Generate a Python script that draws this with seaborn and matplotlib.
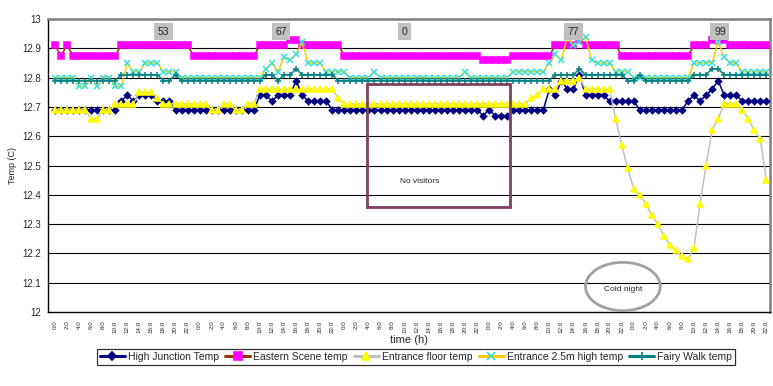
import matplotlib
matplotlib.use("Agg")
import pandas as pd
import matplotlib.pyplot as plt
from matplotlib.patches import Rectangle, Ellipse
from matplotlib.lines import Line2D
import seaborn as sns

# ---------------- data (hourly readings, 5 days) ----------------
hours = list(range(119))

day_labels = ["0:0", "2:0", "4:0", "6:0", "8:0", "10:0",
              "12:0", "14:0", "16:0", "18:0", "20:0", "22:0"]
tick_labels = day_labels * 5

high_junction = [
    12.69, 12.69, 12.69, 12.69, 12.69, 12.69, 12.69, 12.69, 12.69, 12.69, 12.69, 12.72,
    12.74, 12.72, 12.74, 12.74, 12.74, 12.72, 12.72, 12.72, 12.69, 12.69, 12.69, 12.69,
    12.69, 12.69, 12.69, 12.69, 12.69, 12.69, 12.69, 12.69, 12.69, 12.69, 12.74, 12.74,
    12.72, 12.74, 12.74, 12.74, 12.79, 12.74, 12.72, 12.72, 12.72, 12.72, 12.69, 12.69,
    12.69, 12.69, 12.69, 12.69, 12.69, 12.69, 12.69, 12.69, 12.69, 12.69, 12.69, 12.69,
    12.69, 12.69, 12.69, 12.69, 12.69, 12.69, 12.69, 12.69, 12.69, 12.69, 12.69, 12.67,
    12.69, 12.67, 12.67, 12.67, 12.69, 12.69, 12.69, 12.69, 12.69, 12.69, 12.76, 12.74,
    12.79, 12.76, 12.76, 12.81, 12.74, 12.74, 12.74, 12.74, 12.72, 12.72, 12.72, 12.72,
    12.72, 12.69, 12.69, 12.69, 12.69, 12.69, 12.69, 12.69, 12.69, 12.72, 12.74, 12.72,
    12.74, 12.76, 12.79, 12.74, 12.74, 12.74, 12.72, 12.72, 12.72, 12.72, 12.72,
]

eastern_scene = [
    12.91, 12.875, 12.91, 12.875, 12.875, 12.875, 12.875, 12.875, 12.875, 12.875, 12.875, 12.91,
    12.91, 12.91, 12.91, 12.91, 12.91, 12.91, 12.91, 12.91, 12.91, 12.91, 12.91, 12.875,
    12.875, 12.875, 12.875, 12.875, 12.875, 12.875, 12.875, 12.875, 12.875, 12.875, 12.91, 12.91,
    12.91, 12.91, 12.91, 12.93, 12.93, 12.91, 12.91, 12.91, 12.91, 12.91, 12.91, 12.91,
    12.875, 12.875, 12.875, 12.875, 12.875, 12.875, 12.875, 12.875, 12.875, 12.875, 12.875, 12.875,
    12.875, 12.875, 12.875, 12.875, 12.875, 12.875, 12.875, 12.875, 12.875, 12.875, 12.875, 12.86,
    12.86, 12.86, 12.86, 12.86, 12.875, 12.875, 12.875, 12.875, 12.875, 12.875, 12.875, 12.91,
    12.91, 12.91, 12.91, 12.93, 12.91, 12.91, 12.91, 12.91, 12.91, 12.91, 12.875, 12.875,
    12.875, 12.875, 12.875, 12.875, 12.875, 12.875, 12.875, 12.875, 12.875, 12.875, 12.91, 12.91,
    12.91, 12.93, 12.94, 12.93, 12.91, 12.91, 12.91, 12.91, 12.91, 12.91, 12.91,
]

entrance_floor = [
    12.69, 12.69, 12.69, 12.69, 12.69, 12.69, 12.66, 12.66, 12.69, 12.69, 12.71, 12.71,
    12.71, 12.71, 12.75, 12.75, 12.75, 12.73, 12.71, 12.71, 12.71, 12.71, 12.71, 12.71,
    12.71, 12.71, 12.69, 12.69, 12.71, 12.71, 12.69, 12.69, 12.71, 12.71, 12.76, 12.76,
    12.76, 12.76, 12.76, 12.76, 12.76, 12.76, 12.76, 12.76, 12.76, 12.76, 12.76, 12.73,
    12.71, 12.71, 12.71, 12.71, 12.71, 12.71, 12.71, 12.71, 12.71, 12.71, 12.71, 12.71,
    12.71, 12.71, 12.71, 12.71, 12.71, 12.71, 12.71, 12.71, 12.71, 12.71, 12.71, 12.71,
    12.71, 12.71, 12.71, 12.71, 12.71, 12.71, 12.71, 12.73, 12.74, 12.76, 12.76, 12.76,
    12.79, 12.79, 12.79, 12.80, 12.76, 12.76, 12.76, 12.76, 12.76, 12.66, 12.57, 12.49,
    12.42, 12.40, 12.37, 12.33, 12.30, 12.26, 12.23, 12.21, 12.19, 12.18, 12.22, 12.37,
    12.50, 12.62, 12.66, 12.71, 12.71, 12.71, 12.69, 12.66, 12.62, 12.59, 12.45,
]

entrance_high = [
    12.80, 12.80, 12.80, 12.80, 12.77, 12.77, 12.80, 12.77, 12.80, 12.80, 12.77, 12.77,
    12.85, 12.82, 12.82, 12.85, 12.85, 12.85, 12.82, 12.82, 12.82, 12.80, 12.80, 12.80,
    12.80, 12.80, 12.80, 12.80, 12.80, 12.80, 12.80, 12.80, 12.80, 12.80, 12.80, 12.83,
    12.85, 12.82, 12.87, 12.86, 12.88, 12.92, 12.85, 12.85, 12.85, 12.82, 12.82, 12.82,
    12.82, 12.80, 12.80, 12.80, 12.80, 12.82, 12.80, 12.80, 12.80, 12.80, 12.80, 12.80,
    12.80, 12.80, 12.80, 12.80, 12.80, 12.80, 12.80, 12.80, 12.82, 12.80, 12.80, 12.80,
    12.80, 12.80, 12.80, 12.80, 12.82, 12.82, 12.82, 12.82, 12.82, 12.82, 12.85, 12.88,
    12.86, 12.94, 12.91, 12.92, 12.94, 12.86, 12.85, 12.85, 12.85, 12.82, 12.82, 12.82,
    12.80, 12.80, 12.80, 12.80, 12.80, 12.80, 12.80, 12.80, 12.80, 12.80, 12.85, 12.85,
    12.85, 12.85, 12.92, 12.87, 12.85, 12.85, 12.82, 12.82, 12.82, 12.82, 12.82,
]

fairy_walk = [
    12.79, 12.79, 12.79, 12.79, 12.79, 12.79, 12.79, 12.79, 12.79, 12.79, 12.79, 12.81,
    12.81, 12.81, 12.81, 12.81, 12.81, 12.81, 12.79, 12.79, 12.81, 12.79, 12.79, 12.79,
    12.79, 12.79, 12.79, 12.79, 12.79, 12.79, 12.79, 12.79, 12.79, 12.79, 12.79, 12.81,
    12.81, 12.79, 12.81, 12.81, 12.83, 12.81, 12.81, 12.81, 12.81, 12.81, 12.81, 12.79,
    12.79, 12.79, 12.79, 12.79, 12.79, 12.79, 12.79, 12.79, 12.79, 12.79, 12.79, 12.79,
    12.79, 12.79, 12.79, 12.79, 12.79, 12.79, 12.79, 12.79, 12.79, 12.79, 12.79, 12.79,
    12.79, 12.79, 12.79, 12.79, 12.79, 12.79, 12.79, 12.79, 12.79, 12.79, 12.79, 12.81,
    12.81, 12.81, 12.81, 12.83, 12.81, 12.81, 12.81, 12.81, 12.81, 12.81, 12.81, 12.79,
    12.79, 12.81, 12.79, 12.79, 12.79, 12.79, 12.79, 12.79, 12.79, 12.79, 12.81, 12.81,
    12.81, 12.83, 12.83, 12.81, 12.81, 12.81, 12.81, 12.81, 12.81, 12.81, 12.81,
]

# visitor counts shown in grey boxes above the daily peaks
visitor_hours = [18, 37.5, 58, 86, 110.3]
visitor_counts = ["53", "67", "0", "77", "99"]

# series: name, values, line colour, marker, marker colour, marker size
series = [
    ("High Junction Temp", high_junction, "#000080", "D", "#000080", 3.2),
    ("Eastern Scene temp", eastern_scene, "#993300", "s", "#FF00FF", 4.6),
    ("Entrance floor temp", entrance_floor, "#C0C0C0", "^", "#FFFF00", 4.2),
    ("Entrance 2.5m high temp", entrance_high, "#FFCC00", "x", "#33E0E0", 4.2),
    ("Fairy Walk temp", fairy_walk, "#008080", "+", "#008080", 5.0),
]

sns.set_style("white")
plt.rcParams["font.family"] = ["Liberation Sans", "DejaVu Sans"]

fig = plt.figure(figsize=(7.73, 3.86), dpi=100)
ax = fig.add_axes([48 / 773, 1 - 312 / 386, 722 / 773, 293 / 386])

# gridlines at every 0.1
for y in [12.1, 12.2, 12.3, 12.4, 12.5, 12.6, 12.7, 12.8, 12.9]:
    ax.axhline(y, color="black", lw=0.8, zorder=1)

handles = []
for name, vals, lc, mk, mc, ms in series:
    df = pd.DataFrame({"hour": hours, "temp": vals})
    sns.lineplot(data=df, x="hour", y="temp", ax=ax, color=lc, lw=1.1,
                 marker=mk, markersize=ms, markerfacecolor=mc,
                 markeredgecolor=mc, markeredgewidth=1.1, zorder=3)
    handles.append(Line2D([0], [0], color=lc, lw=2.2, marker=mk, markersize=ms + 1,
                          markerfacecolor=mc, markeredgecolor=mc, markeredgewidth=1.2,
                          label=name))

ax.set_xlim(-1.15, 118.6)
ax.set_ylim(12, 13)
ax.set_yticks([12, 12.1, 12.2, 12.3, 12.4, 12.5, 12.6, 12.7, 12.8, 12.9, 13])
ax.set_yticklabels(["12", "12.1", "12.2", "12.3", "12.4", "12.5", "12.6",
                    "12.7", "12.8", "12.9", "13"], fontsize=7)
ax.set_xticks(hours[::2])
ax.set_xticklabels(tick_labels, rotation=90, fontsize=4.5)
ax.set_xticks(hours, minor=True)
ax.tick_params(axis="x", which="both", direction="out", length=3, width=0.7, pad=3)
ax.tick_params(axis="y", direction="out", length=3, width=0.7, pad=2)

for side in ["left", "bottom"]:
    ax.spines[side].set_color("black")
    ax.spines[side].set_linewidth(1.0)
for side in ["top", "right"]:
    ax.spines[side].set_color("#808080")
    ax.spines[side].set_linewidth(1.8)

ax.set_xlabel("time (h)", fontsize=8, labelpad=2)
ax.set_ylabel("Temp (C)", fontsize=6.5, labelpad=4)

# visitor boxes
for h, c in zip(visitor_hours, visitor_counts):
    ax.text(h, 12.957, c, fontsize=7.5, ha="center", va="center", zorder=5,
            bbox=dict(boxstyle="square,pad=0.35", fc="#C0C0C0", ec="none"))

# "No visitors" frame
ax.add_patch(Rectangle((51.8, 12.358), 23.6, 0.42, fill=False,
                       ec="#7F3F5F", lw=2.0, zorder=4))
ax.text(60.5, 12.444, "No visitors", fontsize=6, ha="center", va="center", zorder=5)

# "Cold night" ellipse
ax.add_patch(Ellipse((94.2, 12.087), 12.4, 0.165, fill=False,
                     ec="#A0A0A0", lw=2.0, zorder=4))
ax.text(94.2, 12.078, "Cold night", fontsize=6, ha="center", va="center", zorder=5)

ax.legend(handles=handles, loc="center", bbox_to_anchor=(416 / 773, 1 - 357 / 386),
          bbox_transform=fig.transFigure, ncol=5, fontsize=7.5, frameon=True,
          fancybox=False, edgecolor="black", handlelength=2.4, handletextpad=0.3,
          columnspacing=0.6, borderpad=0.3)
ax.get_legend().get_frame().set_linewidth(0.9)

fig.savefig("out.png", dpi=100)
